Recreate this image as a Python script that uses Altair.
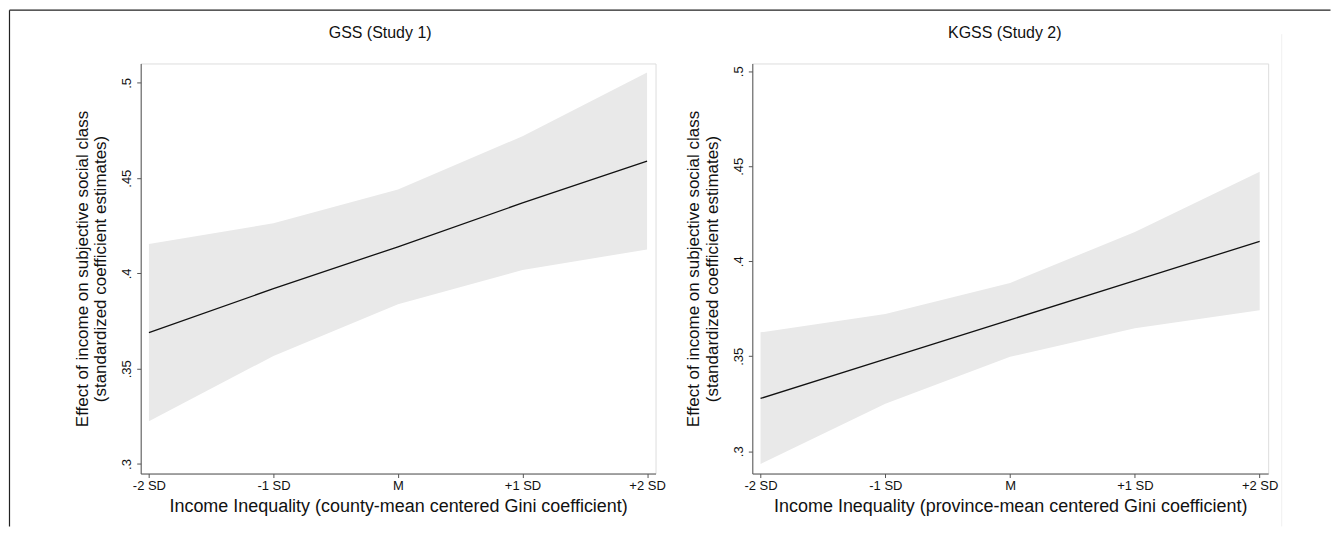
import altair as alt
import pandas as pd

# ---- data ----
x_pos = [-2, -1, 0, 1, 2]
x_labels = ["-2 SD", "-1 SD", "M", "+1 SD", "+2 SD"]

gss_fit = [0.369, 0.392, 0.414, 0.437, 0.459]
gss_lo = [0.3225, 0.3567, 0.3839, 0.4018, 0.4126]
gss_hi = [0.4154, 0.4263, 0.4440, 0.4720, 0.5054]

kgss_fit = [0.3278, 0.3485, 0.3692, 0.3898, 0.4105]
kgss_lo = [0.2933, 0.3250, 0.3497, 0.3647, 0.3742]
kgss_hi = [0.3626, 0.3722, 0.3886, 0.4154, 0.4471]

y_ticks = [0.3, 0.35, 0.4, 0.45, 0.5]

titles = ["GSS (Study 1)", "KGSS (Study 2)"]
x_titles = ["Income Inequality (county-mean centered Gini coefficient)",
            "Income Inequality (province-mean centered Gini coefficient)"]
y_title = ["Effect of income on subjective social class",
           "(standardized coefficient estimates)"]

FONT = "Liberation Sans"
AX = "#555555"
H = 411

label_expr = " : ".join(
    f"datum.value == {p} ? '{l}'" for p, l in zip(x_pos, x_labels)
) + " : ''"


def panel(fit, lo, hi, title, xtitle, ydomain, width, title_x, extra=None):
    df = pd.DataFrame({"x": x_pos, "fit": fit, "lo": lo, "hi": hi})
    base = alt.Chart(df)
    xenc = alt.X(
        "x:Q",
        scale=alt.Scale(domain=[-2.066, 2.068], nice=False, zero=False),
        axis=alt.Axis(
            values=x_pos, labelExpr=label_expr, title=xtitle, grid=False,
            domainColor=AX, tickColor=AX, tickSize=4, labelPadding=2,
            labelFontSize=13, labelColor="#111111", labelFont=FONT,
            titleFont=FONT, titleFontSize=18, titleFontWeight="normal",
            titleColor="#111111", titlePadding=5, labelFlush=False,
        ),
    )
    yscale = alt.Scale(domain=ydomain, nice=False, zero=False)
    area = base.mark_area(color="#e9e9e9", opacity=1).encode(
        x=xenc,
        y=alt.Y(
            "lo:Q", scale=yscale,
            axis=alt.Axis(
                values=y_ticks,
                labelExpr="substring(format(datum.value, '.2~f'), 1)",
                title=y_title, grid=False, domainColor=AX, tickColor=AX,
                tickSize=4, labelAngle=270, labelAlign="center",
                labelBaseline="bottom", labelPadding=3, labelFontSize=13,
                labelColor="#111111", labelFont=FONT, titleFont=FONT,
                titleFontSize=17, titleFontWeight="normal",
                titleColor="#111111", titlePadding=11, labelFlush=False,
                titleLineHeight=18.5,
            ),
        ),
        y2="hi:Q",
    )
    line = base.mark_line(color="#111111", strokeWidth=1.3).encode(
        x="x:Q", y=alt.Y("fit:Q", scale=yscale)
    )
    ttl = alt.Chart(pd.DataFrame({"t": [title]})).mark_text(
        font=FONT, fontSize=16, color="#111111", align="center",
        baseline="middle",
    ).encode(text="t:N", x=alt.value(title_x), y=alt.value(-31))
    layers = [area, line, ttl]
    if extra is not None:
        layers += extra
    return alt.layer(*layers).properties(width=width, height=H)


one = pd.DataFrame({"a": [0]})
frame = [
    alt.Chart(one).mark_rule(color="#222222", strokeWidth=1.2).encode(
        x=alt.value(-131.5), y=alt.value(-53.4), y2=alt.value(464)
    ),
    alt.Chart(one).mark_rule(color="#222222", strokeWidth=1.2).encode(
        x=alt.value(-131.5), x2=alt.value(1192.5), y=alt.value(-53.4)
    ),
]
right_extra = [
    alt.Chart(one).mark_rule(color="#f0f0f0", strokeWidth=1).encode(
        x=alt.value(530.6), y=alt.value(-29.4), y2=alt.value(464)
    ),
]

left = panel(gss_fit, gss_lo, gss_hi, titles[0], x_titles[0],
             [0.295, 0.5102], 516, 240, frame)
right = panel(kgss_fit, kgss_lo, kgss_hi, titles[1], x_titles[1],
              [0.2883, 0.5041], 517, 253, right_extra)

chart = alt.hconcat(left, right, spacing=97, bounds="flush").properties(
    padding=0
).configure_view(stroke=None).configure(background="white")

chart.save("out.html", embed_options={"renderer": "svg", "actions": False})
